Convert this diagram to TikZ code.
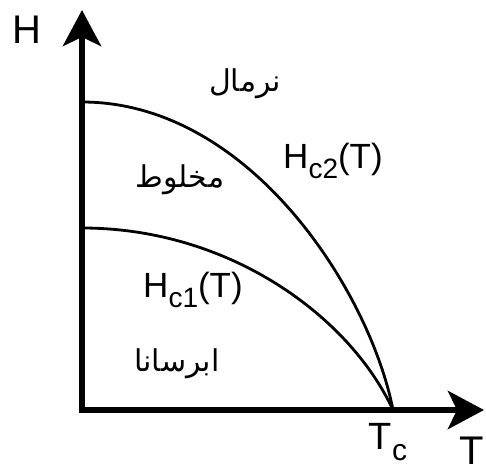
\documentclass[tikz,border=0pt]{standalone}
\usepackage{fontspec}
\setmainfont{Liberation Sans}
\newfontfamily\arabicfont[Script=Arabic]{DejaVu Sans}
\TeXXeTstate=1
\usetikzlibrary{arrows.meta}
\tikzset{axis/.style={line width=6pt, line join=miter, {Stealth[length=36pt,width=38pt,inset=9pt]}-{Stealth[length=36pt,width=38pt,inset=9pt]}},
boundary/.style={line width=2.8pt},
phase/.style={font=\arabicfont\fontsize{30}{34}\selectfont},
curvelabel/.style={font=\fontsize{35}{40}\selectfont},
axislabel/.style={font=\fontsize{40}{46}\selectfont},
}
\newcommand{\lowsub}[2]{\raisebox{-0.28em}{\fontsize{#1}{#1}\selectfont #2}}

\begin{document}
\begin{tikzpicture}[x=1pt, y=1pt]
            \useasboundingbox (0,0) rectangle (486,472);
            \coordinate (O) at (82,62);
            \coordinate (Htip) at (82,462);
            \coordinate (Ttip) at (484,62);
            \coordinate (Tc) at (393,62);
            \coordinate (H2) at (82,370);
            \coordinate (H1) at (82,244);

            \draw[axis] (Htip) -- (O) -- (Ttip);
            \draw[boundary] (H2) .. controls (250,370) and (370,180) .. (Tc);
            \draw[boundary] (H1) .. controls (230,244) and (350,155) .. (Tc);

            \node[axislabel] (hlabel) at (27,442) {H};
            \node[axislabel] (tlabel) at (472,21) {T};
            \node[font=\fontsize{38}{44}\selectfont] (tclabel) at (388,30) {T\lowsub{30}{c}};
            \node[curvelabel] (hc2) at (333,311) {H\lowsub{28}{c2}(T)};
            \node[curvelabel] (hc1) at (193,182) {H\lowsub{28}{c1}(T)};

            \node[phase] (normal) at (245,388) {\beginR نرمال\endR};
            \node[phase] (mixed) at (180,292) {\beginR مخلوط\endR};
            \node[phase] (super) at (177,108) {\beginR ابرسانا\endR};
        \end{tikzpicture}
\end{document}
